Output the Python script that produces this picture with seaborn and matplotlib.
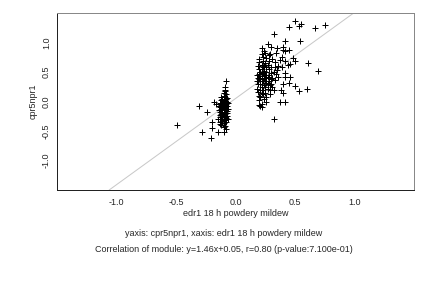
import matplotlib
matplotlib.use("Agg")
import matplotlib.pyplot as plt
import seaborn as sns
import pandas as pd

# ---- data ----
cluster_a_x = [-0.10, -0.09, -0.11, -0.08, -0.12, -0.10, -0.09, -0.07, -0.13, -0.11,
               -0.08, -0.10, -0.12, -0.09, -0.07, -0.11, -0.13, -0.10, -0.08, -0.12,
               -0.09, -0.11, -0.07, -0.10, -0.13, -0.08, -0.11, -0.09, -0.12, -0.10,
               -0.07, -0.11, -0.09, -0.13, -0.08, -0.10, -0.12, -0.09, -0.11, -0.08,
               -0.10, -0.12, -0.09, -0.11, -0.09, -0.12, -0.08, -0.10, -0.09, -0.11,
               -0.07, -0.13, -0.06, -0.06, -0.14, -0.14, -0.06, -0.10, -0.13, -0.07,
               -0.49, -0.31, -0.24, -0.18, -0.28, -0.20, -0.20, -0.21, -0.15, -0.10,
               -0.08, -0.13, -0.076, -0.09, -0.085, -0.16, -0.15]
cluster_a_y = [0.10, 0.08, 0.05, 0.04, 0.02, 0.01, -0.01, 0.00, -0.02, -0.03,
               -0.04, -0.05, -0.06, -0.07, -0.08, -0.09, -0.10, -0.11, -0.12, -0.13,
               -0.14, -0.15, -0.16, -0.17, -0.18, -0.19, -0.20, -0.21, -0.22, -0.23,
               -0.24, -0.25, -0.26, -0.27, -0.28, -0.29, -0.30, -0.32, -0.33, -0.35,
               -0.37, -0.39, -0.41, -0.12, -0.03, 0.07, 0.12, 0.14, 0.17, -0.07,
               -0.20, -0.23, -0.12, -0.02, -0.08, -0.15, -0.30, -0.44, -0.35, 0.06,
               -0.40, -0.08, -0.17, -0.01, -0.51, -0.35, -0.45, -0.62, -0.52, -0.52,
               -0.46, -0.38, 0.34, 0.20, 0.25, -0.05, -0.30]

cluster_b_x = [0.20, 0.22, 0.26, 0.29, 0.19, 0.32, 0.30, 0.33, 0.36, 0.35,
               0.39, 0.36, 0.33, 0.28, 0.23, 0.20, 0.25, 0.29, 0.34, 0.225,
               0.27, 0.19, 0.20, 0.21, 0.22, 0.23, 0.24, 0.25, 0.21, 0.22,
               0.24, 0.26, 0.27, 0.28, 0.29, 0.27, 0.25, 0.23, 0.21, 0.19,
               0.18, 0.20, 0.19, 0.18, 0.18, 0.20, 0.22, 0.23, 0.24, 0.26,
               0.28, 0.30, 0.31, 0.32, 0.30, 0.27, 0.25, 0.22, 0.21, 0.24,
               0.26, 0.28, 0.30, 0.25, 0.23, 0.22, 0.24, 0.26, 0.20, 0.23,
               0.26, 0.28, 0.24, 0.22, 0.31, 0.33, 0.34, 0.21, 0.20, 0.27,
               0.29, 0.31, 0.25, 0.26, 0.24, 0.22, 0.23, 0.20, 0.21, 0.22,
               0.45, 0.50, 0.53, 0.55, 0.67, 0.75, 0.32, 0.42, 0.54, 0.61,
               0.69, 0.60, 0.53, 0.42, 0.37, 0.32, 0.50, 0.46, 0.45, 0.40,
               0.40, 0.40, 0.42, 0.45, 0.39, 0.42, 0.48, 0.50, 0.46, 0.44,
               0.42, 0.42, 0.40, 0.38, 0.37, 0.35, 0.30]
cluster_b_y = [0.02, -0.04, 0.07, 0.13, 0.16, 0.20, 0.30, 0.36, 0.42, 0.53,
               0.58, 0.61, 0.67, 0.68, 0.69, 0.67, 0.82, 0.81, 0.83, 0.90,
               0.98, 0.30, 0.10, 0.20, 0.25, 0.35, 0.40, 0.45, 0.50, 0.55,
               0.60, 0.50, 0.42, 0.35, 0.28, 0.22, 0.15, 0.12, 0.08, 0.40,
               0.45, 0.55, 0.60, 0.35, 0.22, 0.38, 0.44, 0.48, 0.52, 0.58,
               0.55, 0.48, 0.40, 0.50, 0.58, 0.62, 0.65, 0.62, 0.30, 0.28,
               0.32, 0.45, 0.38, 0.25, 0.20, 0.15, 0.05, 0.00, 0.72, 0.76,
               0.74, 0.78, 0.86, 0.80, 0.72, 0.58, 0.46, 0.40, 0.47, 0.30,
               0.20, 0.25, 0.35, 0.40, 0.45, 0.35, 0.58, -0.06, -0.08, -0.10,
               1.27, 1.36, 1.28, 1.31, 1.25, 1.30, 1.15, 1.03, 1.03, 0.66,
               0.51, 0.22, 0.17, -0.01, -0.01, -0.29, 0.26, 0.41, 0.31, 0.14,
               0.92, 0.88, 0.85, 0.88, 0.76, 0.69, 0.74, 0.68, 0.64, 0.62,
               0.48, 0.41, 0.30, 0.20, 0.70, 0.90, 0.92]

slope = 1.46
intercept = 0.05
r_value = 0.80
p_value = "7.100e-01"
x_name = "edr1 18 h powdery mildew"
y_name = "cpr5npr1"
x_ticks = [-1.0, -0.5, 0.0, 0.5, 1.0]
y_ticks = [-1.0, -0.5, 0.0, 0.5, 1.0]

df = pd.DataFrame({"x": cluster_a_x + cluster_b_x, "y": cluster_a_y + cluster_b_y})

sns.set_style("white")
plt.rcParams["font.family"] = ["Liberation Sans", "DejaVu Sans"]

fig = plt.figure(figsize=(6, 4), dpi=72)
ax = fig.add_axes([57 / 432, 1 - 190 / 288, (414 - 57) / 432, (190 - 13) / 288])

ax.axline((0, intercept), slope=slope, color="#c8c8c8", lw=1.0, zorder=1)
sns.scatterplot(data=df, x="x", y="y", marker="+", color="black", s=26,
                linewidth=1.0, ax=ax, zorder=2)

fs = 9
ax.set_xlim(-1.5, 1.5)
ax.set_ylim(-1.5, 1.5)
ax.set_xticks(x_ticks)
ax.set_yticks(y_ticks)
ax.set_xticklabels([f"{t:.1f}" for t in x_ticks], fontsize=fs)
ax.set_yticklabels([f"{t:.1f}" for t in y_ticks], fontsize=fs, rotation=90, va="center")
ax.tick_params(axis="both", direction="out", length=3, width=0.7, color="#555555")
ax.tick_params(axis="x", pad=5)
ax.tick_params(axis="y", pad=3)
ax.set_xlabel(x_name, fontsize=fs, labelpad=2)
ax.set_ylabel(y_name, fontsize=fs, labelpad=4)

for side in ["left", "bottom"]:
    ax.spines[side].set_color("#222222")
    ax.spines[side].set_linewidth(1.0)
for side in ["top", "right"]:
    ax.spines[side].set_color("#888888")
    ax.spines[side].set_linewidth(1.0)

fig.text(224 / 432, 1 - 233 / 288, f"yaxis: {y_name}, xaxis: {x_name}",
         ha="center", va="center", fontsize=fs)
fig.text(224 / 432, 1 - 250 / 288,
         f"Correlation of module: y={slope:.2f}x+{intercept:.2f}, r={r_value:.2f} (p-value:{p_value})",
         ha="center", va="center", fontsize=fs)

fig.savefig("out.png", dpi=72)
